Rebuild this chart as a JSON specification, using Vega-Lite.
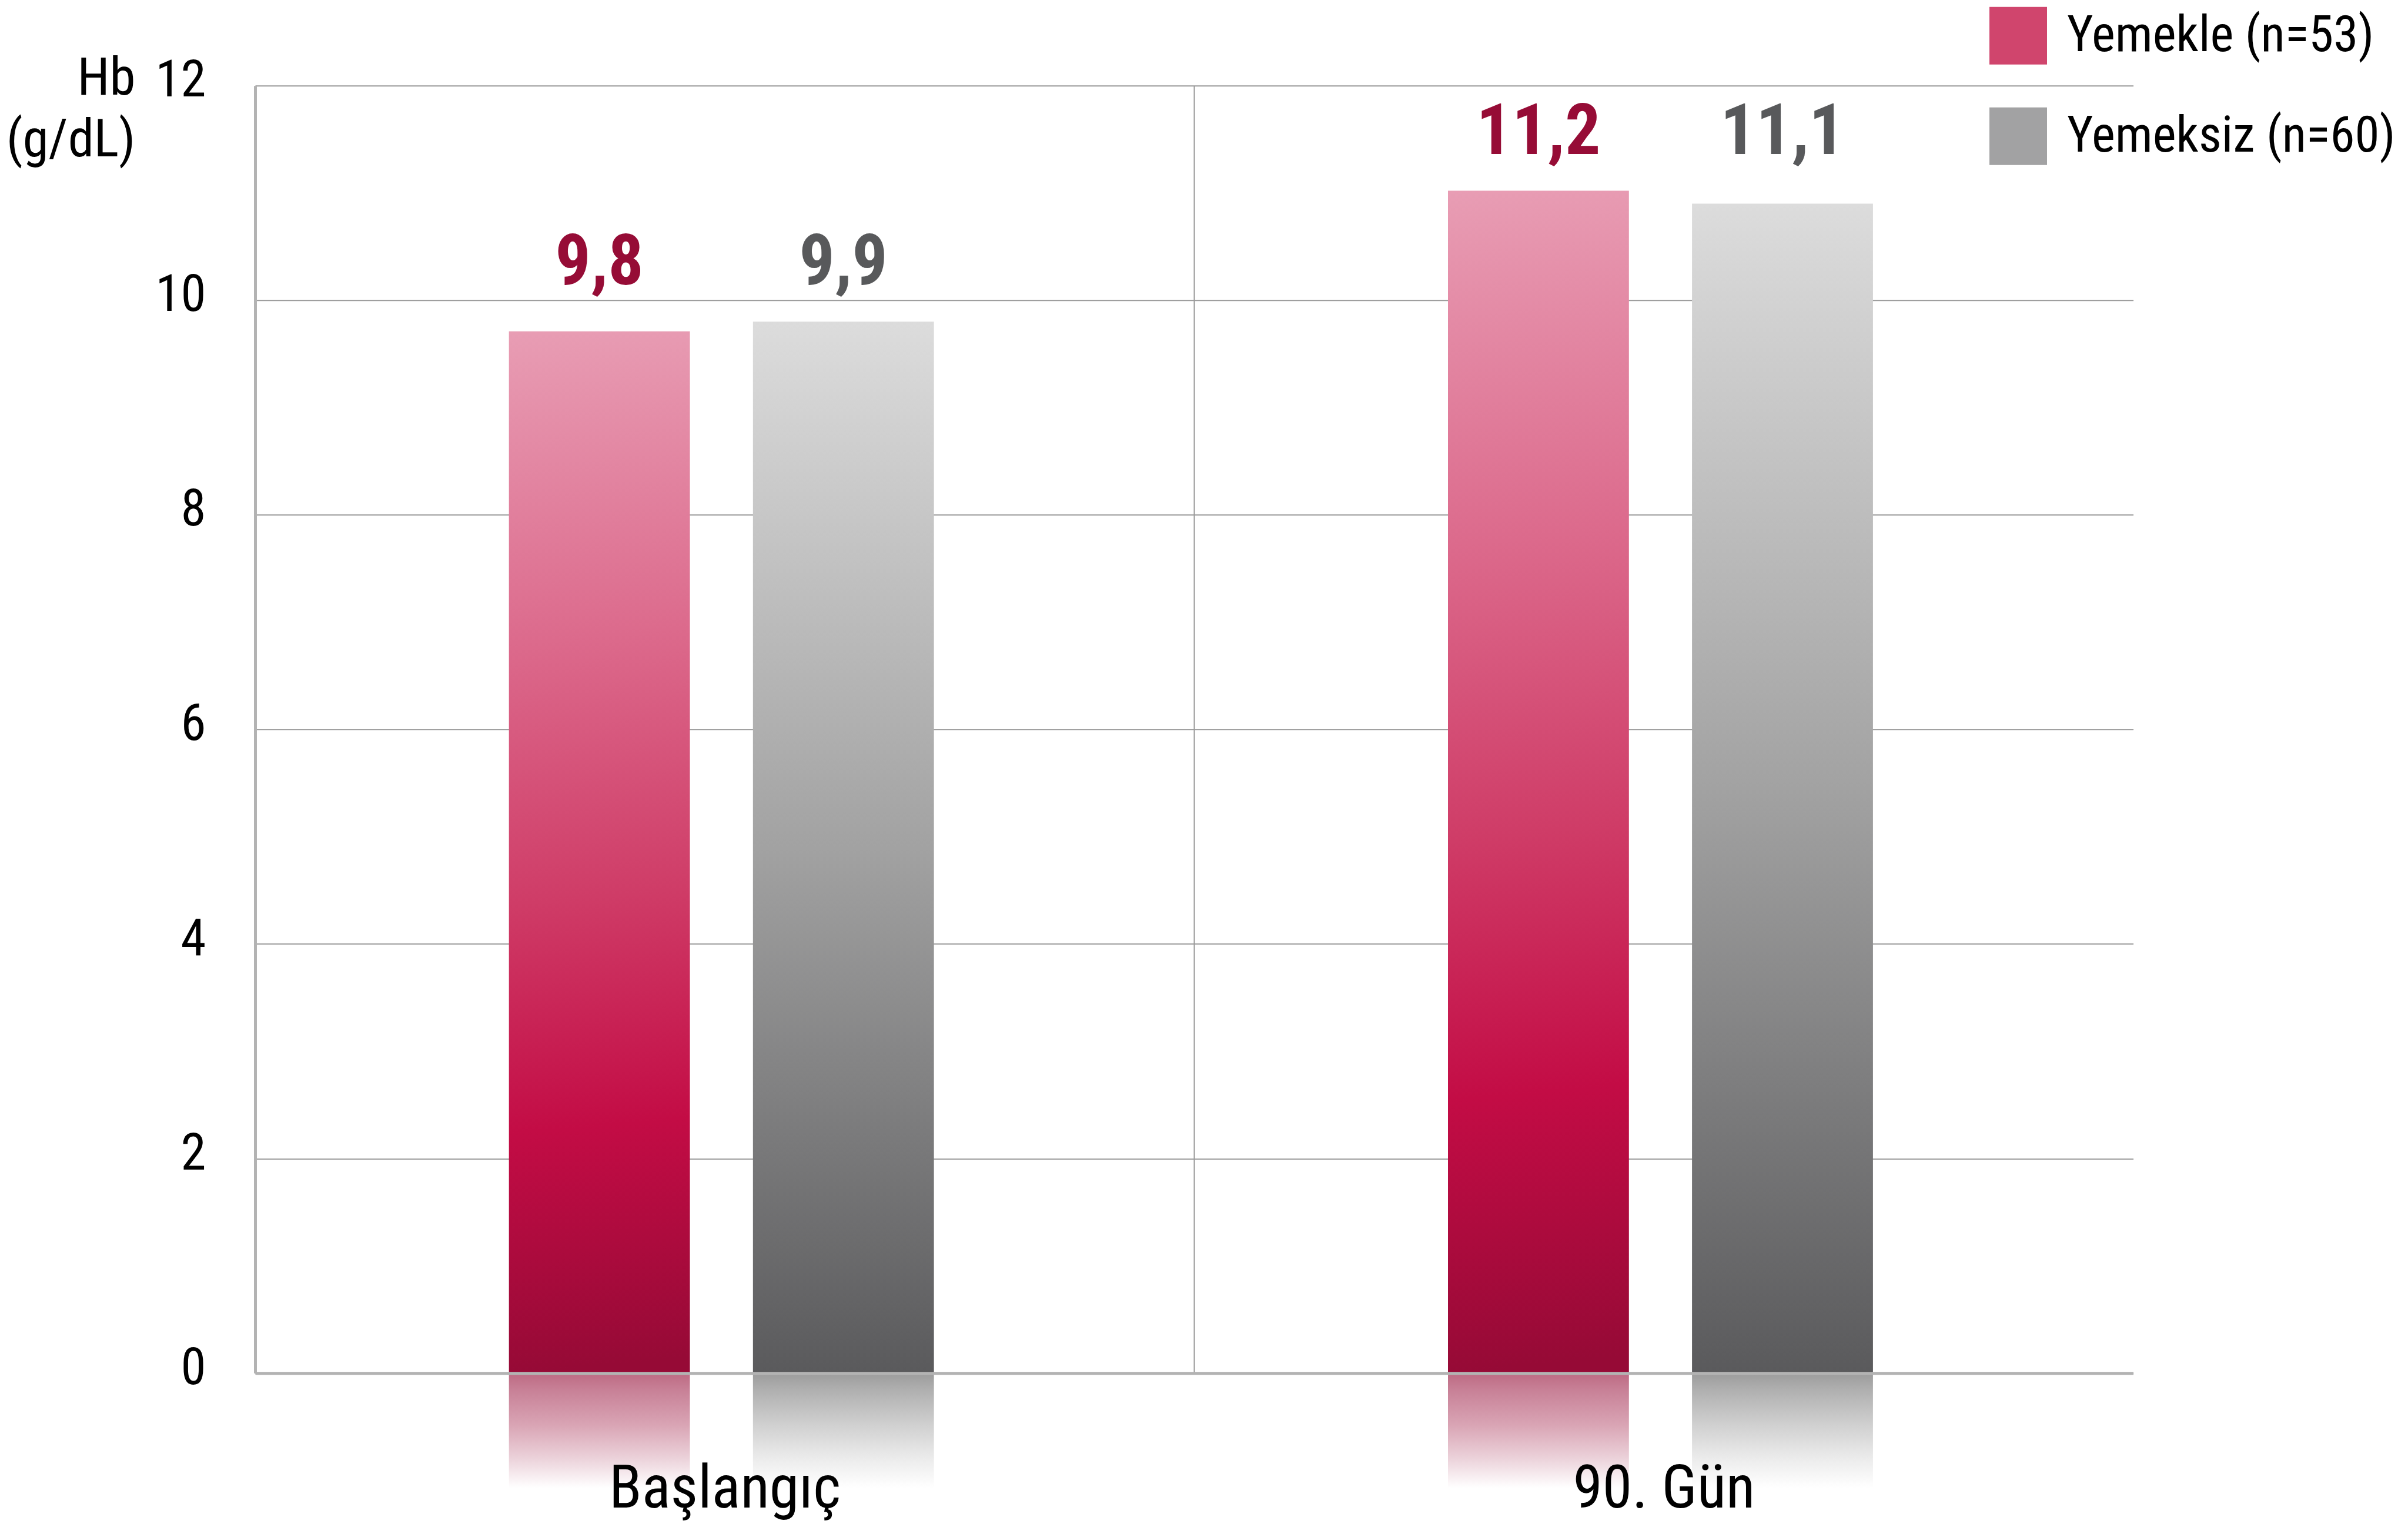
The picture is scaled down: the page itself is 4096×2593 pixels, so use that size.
{
  "$schema": "https://vega.github.io/schema/vega-lite/v6.json",
  "width": 3194.6,
  "height": 2190.6,
  "autosize": {"type": "none"},
  "padding": {"left": 434, "top": 145.65, "right": 467.4, "bottom": 256.75},
  "background": "white",
  "config": {
    "view": {"stroke": null},
    "font": "Roboto Condensed"
  },
  "data": {
    "values": [
      {"group": "Başlangıç", "series": "Yemekle (n=53)", "hb": 9.71, "label": "9,8"},
      {"group": "Başlangıç", "series": "Yemeksiz (n=60)", "hb": 9.8, "label": "9,9"},
      {"group": "90. Gün", "series": "Yemekle (n=53)", "hb": 11.02, "label": "11,2"},
      {"group": "90. Gün", "series": "Yemeksiz (n=60)", "hb": 10.9, "label": "11,1"}
    ]
  },
  "transform": [
    {"joinaggregate": [{"op": "max", "field": "hb", "as": "gmax"}], "groupby": ["group"]}
  ],
  "encoding": {
    "x": {
      "field": "group",
      "type": "nominal",
      "sort": ["Başlangıç", "90. Gün"],
      "scale": {"paddingInner": 0, "paddingOuter": 0},
      "axis": {
        "title": null,
        "labelAngle": 0,
        "labelFont": "Roboto Condensed",
        "labelFontSize": 102,
        "labelColor": "#000000",
        "labelBaseline": "alphabetic",
        "labelPadding": 228,
        "labelLimit": 2000,
        "ticks": false,
        "tickSize": 0,
        "tickBand": "extent",
        "domainColor": "#b3b3b3",
        "domainWidth": 5,
        "grid": true,
        "gridColor": {"condition": {"test": "datum.value === 'Başlangıç'", "value": "#9a9a9a"}, "value": "transparent"},
        "gridWidth": 2,
        "zindex": 1
      }
    },
    "xOffset": {
      "field": "series",
      "type": "nominal",
      "sort": ["Yemekle (n=53)", "Yemeksiz (n=60)"],
      "scale": {"domain": ["Yemekle (n=53)", "Yemeksiz (n=60)"], "range": [431.7, 1154.6], "paddingInner": 0.2585, "paddingOuter": 0}
    }
  },
  "layer": [
    {
      "transform": [{"filter": "datum.series === 'Yemekle (n=53)'"}],
      "mark": {"type": "bar", "fill": {"gradient": "linear", "x1": 0, "y1": 0, "x2": 0, "y2": 1,
        "stops": [
          {"offset": 0, "color": "#bd6a83"},
          {"offset": 0.15, "color": "#c88197"},
          {"offset": 0.45, "color": "#d9a4b4"},
          {"offset": 0.75, "color": "#ecd3db"},
          {"offset": 1, "color": "#ffffff"}
        ]}},
      "encoding": {
        "y": {"datum": 0, "type": "quantitative"},
        "y2": {"datum": -1.07}
      }
    },
    {
      "transform": [{"filter": "datum.series === 'Yemeksiz (n=60)'"}],
      "mark": {"type": "bar", "fill": {"gradient": "linear", "x1": 0, "y1": 0, "x2": 0, "y2": 1,
        "stops": [
          {"offset": 0, "color": "#9c9c9c"},
          {"offset": 0.15, "color": "#b0b0b0"},
          {"offset": 0.45, "color": "#d0d0d0"},
          {"offset": 0.75, "color": "#ececec"},
          {"offset": 1, "color": "#ffffff"}
        ]}},
      "encoding": {
        "y": {"datum": 0, "type": "quantitative"},
        "y2": {"datum": -1.07}
      }
    },
    {
      "transform": [{"filter": "datum.series === 'Yemekle (n=53)'"}],
      "mark": {"type": "bar", "fill": {"gradient": "linear", "x1": 0, "y1": 0, "x2": 0.015, "y2": 1,
        "stops": [
          {"offset": 0, "color": "#e89db4"},
          {"offset": 0.3, "color": "#dc6a8c"},
          {"offset": 0.55, "color": "#cf3c67"},
          {"offset": 0.77, "color": "#c30c45"},
          {"offset": 1, "color": "#960a36"}
        ]}},
      "encoding": {
        "y": {
          "field": "hb",
          "type": "quantitative",
          "scale": {"domain": [0, 12], "nice": false, "zero": true},
          "axis": {
            "values": [0, 2, 4, 6, 8, 10, 12],
            "format": "d",
            "title": ["Hb", "(g/dL)"],
            "titleAngle": 0,
            "titleAlign": "right",
            "titleBaseline": "alphabetic",
            "titleX": -204,
            "titleY": 14.6,
            "titleFont": "Roboto Condensed",
            "titleFontSize": 89,
            "titleFontWeight": "normal",
            "titleLineHeight": 105,
            "titleColor": "#000000",
            "labelFont": "Roboto Condensed",
            "labelFontSize": 87,
            "labelColor": "#000000",
            "labelAlign": "right",
            "labelBaseline": "alphabetic",
            "labelOffset": 18,
            "labelPadding": 84,
            "ticks": false,
            "tickSize": 0,
            "domainColor": "#b3b3b3",
            "domainWidth": 5,
            "grid": true,
            "gridColor": "#9a9a9a",
            "gridWidth": 2,
            "zindex": 0
          }
        }
      }
    },
    {
      "transform": [{"filter": "datum.series === 'Yemeksiz (n=60)'"}],
      "mark": {"type": "bar", "fill": {"gradient": "linear", "x1": 0, "y1": 0, "x2": 0, "y2": 1,
        "stops": [
          {"offset": 0, "color": "#dcdcdc"},
          {"offset": 0.5, "color": "#a2a2a2"},
          {"offset": 1, "color": "#5a5a5c"}
        ]}},
      "encoding": {
        "y": {"field": "hb", "type": "quantitative"}
      }
    },
    {
      "mark": {"type": "bar"},
      "encoding": {
        "y": {"datum": 0, "type": "quantitative"},
        "y2": {"datum": 0},
        "color": {
          "field": "series",
          "type": "nominal",
          "scale": {
            "domain": ["Yemekle (n=53)", "Yemeksiz (n=60)"],
            "range": ["#d0456d", "#a2a2a3"]
          },
          "legend": {
            "orient": "none",
            "legendX": 2950,
            "legendY": -134,
            "title": null,
            "padding": 0,
            "symbolType": "square",
            "symbolSize": 9604,
            "symbolStrokeWidth": 0,
            "symbolOpacity": 1,
            "labelFont": "Roboto Condensed",
            "labelFontSize": 85,
            "labelColor": "#000000",
            "labelOffset": 34,
            "labelLimit": 2000,
            "rowPadding": 73
          }
        }
      }
    },
    {
      "mark": {"type": "text", "baseline": "alphabetic", "dy": -63, "font": "Roboto Condensed", "fontSize": 120, "fontWeight": "bold"},
      "encoding": {
        "y": {"field": "gmax", "type": "quantitative"},
        "text": {"field": "label"},
        "fill": {
          "condition": {"test": "datum.series === 'Yemekle (n=53)'", "value": "#960c36"},
          "value": "#58595b"
        }
      }
    }
  ]
}
